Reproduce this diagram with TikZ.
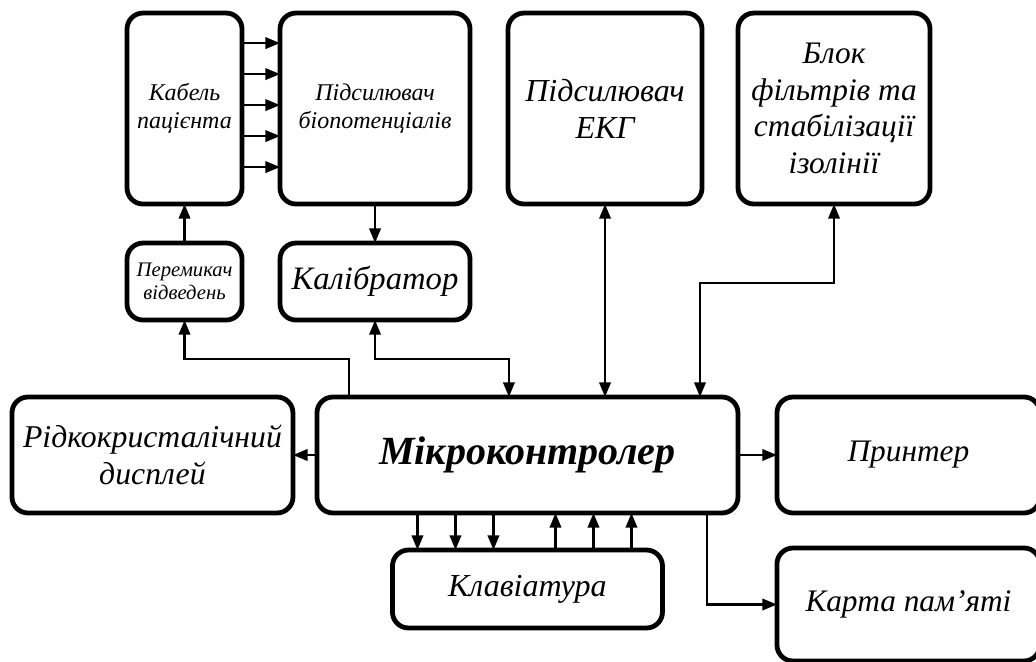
\documentclass[tikz,border=0pt]{standalone}
\usepackage{fontspec}
\setmainfont{Liberation Serif}
\usepackage{tikz}
\usetikzlibrary{positioning}
\usetikzlibrary{arrows.meta}

\begin{document}
\begin{tikzpicture}[
	block/.style={draw, line width=3.6pt, rounded corners=12pt, align=center, inner sep=2pt, outer sep=0pt},
	Tri/.tip={Triangle[length=11pt,width=8.5pt]},
	conn/.style={line width=2pt, -Tri},
	both/.style={line width=2pt, Tri-Tri}]
			\useasboundingbox (0,0) rectangle (777pt,-495.75pt);
			\node[block, minimum width=86.25pt, minimum height=143.25pt, font=\itshape\fontsize{18}{21}\selectfont] (Cable) at (138.4pt,-81.4pt) {Кабель\\пацієнта};
			\node(BioAmp)[block, minimum width=142.5pt, minimum height=143.25pt, font=\itshape\fontsize{18}{21}\selectfont, right=28.5pt of Cable]{Підсилювач\\біопотенціалів};
			\node(EcgAmp)[block, minimum width=145.5pt, minimum height=143.25pt, font=\itshape\fontsize{24}{27.75}\selectfont, right=28.5pt of BioAmp]{Підсилювач\\ЕКГ};
			\node(Filters)[block, minimum width=144pt, minimum height=143.25pt, font=\itshape\fontsize{23.5}{27.5}\selectfont, right=27pt of EcgAmp]{Блок\\фільтрів та\\стабілізації\\ізолінії};
			\node(Switch)[block, minimum width=86.25pt, minimum height=57.75pt, font=\itshape\fontsize{15.5}{17}\selectfont, below=29.25pt of Cable]{Перемикач\\відведень};
			\node(Calibrator)[block, minimum width=142.5pt, minimum height=57.75pt, font=\itshape\fontsize{24.5}{28}\selectfont, below=29.25pt of BioAmp]{Калібратор};
			\node[block, minimum width=315.75pt, minimum height=87pt, font=\bfseries\itshape\fontsize{30}{34}\selectfont] (Mcu) at (395.6pt,-341.25pt) {Мікроконтролер};
			\node(Display)[block, minimum width=210.75pt, minimum height=87pt, font=\itshape\fontsize{23.8}{27.75}\selectfont, left=18pt of Mcu]{Рідкокристалічний\\дисплей};
			\node(Printer)[block, minimum width=197.25pt, minimum height=87pt, font=\itshape\fontsize{23.5}{27}\selectfont, right=29.25pt of Mcu]{Принтер};
			\node(Card)[block, minimum width=197.25pt, minimum height=84.75pt, font=\itshape\fontsize{23.5}{27}\selectfont, below=26.25pt of Printer]{Карта пам’яті};
			\node(Keyboard)[block, minimum width=202.5pt, minimum height=58.5pt, font=\itshape\fontsize{24}{28}\selectfont, below=27.75pt of Mcu]{Клавіатура};
			\foreach \k in {-2,...,2}
				\draw[conn] ([yshift=\k*23.25pt+2.6pt]Cable.east) -- ([yshift=\k*23.25pt+2.6pt]Cable.east -| BioAmp.west);
			\draw[conn] (Switch) to (Cable);
			\draw[conn] (BioAmp) to (Calibrator);
			\draw[conn] ([xshift=-133.9pt]Mcu.north) -- ++(0,28.5pt) -| (Switch.south);
			\draw[both] (Calibrator.south) -- ++(0,-29.25pt) -| ([xshift=-13.9pt]Mcu.north);
			\draw[both] (EcgAmp.south) -- (EcgAmp.south |- Mcu.north);
			\draw[both] ([xshift=129.4pt]Mcu.north) -- ++(0,85.5pt) -| (Filters.south);
			\draw[conn] (Mcu) to (Display);
			\draw[conn] (Mcu) to (Printer);
			\draw[conn] ([xshift=134.6pt]Mcu.south) |- (Card.west);
			\foreach \dx in {-82.5,-54,-25.5}
				\draw[conn] ([xshift=\dx pt]Mcu.south) -- ([xshift=\dx pt]Mcu.south |- Keyboard.north);
			\foreach \dx in {21,49.5,78}
				\draw[conn] ([xshift=\dx pt]Mcu.south |- Keyboard.north) -- ([xshift=\dx pt]Mcu.south);
		\end{tikzpicture}
\end{document}
